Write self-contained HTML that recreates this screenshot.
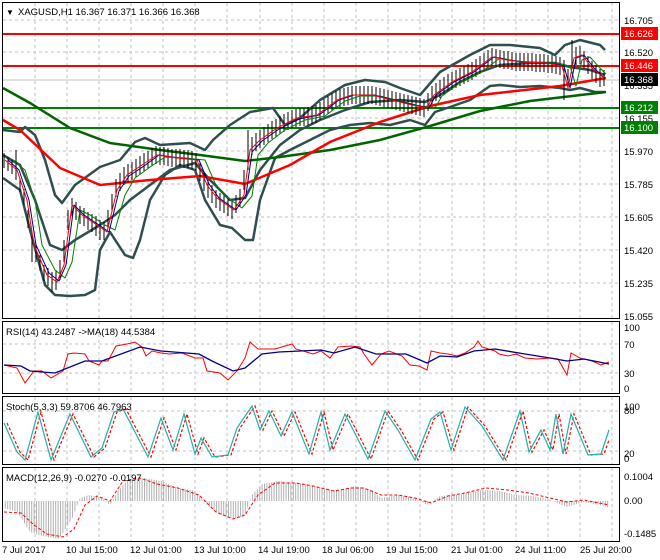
<!DOCTYPE html>
<html><head><meta charset="utf-8"><style>
html,body{margin:0;padding:0;background:#fff;}
svg{display:block;font-family:"Liberation Sans",sans-serif;}
</style></head><body>
<svg width="660" height="560" viewBox="0 0 660 560" xmlns="http://www.w3.org/2000/svg">
<defs>
<pattern id="hp" width="2.4" height="10" patternUnits="userSpaceOnUse"><rect x="0" y="0" width="1" height="10" fill="#b0b0b0"/></pattern>
</defs>
<rect width="660" height="560" fill="#fff"/>
<g stroke="#c0c0c0" stroke-dasharray="3,3" fill="none">
<path d="M35,3V318M67,3V318M99,3V318M131,3V318M163,3V318M195,3V318M227,3V318M260,3V318M292,3V318M324,3V318M356,3V318M388,3V318M420,3V318M452,3V318M484,3V318M516,3V318M548,3V318M580,3V318M612,3V318"/>
<path d="M35,322V393M67,322V393M99,322V393M131,322V393M163,322V393M195,322V393M227,322V393M260,322V393M292,322V393M324,322V393M356,322V393M388,322V393M420,322V393M452,322V393M484,322V393M516,322V393M548,322V393M580,322V393M612,322V393"/>
<path d="M35,397V464M67,397V464M99,397V464M131,397V464M163,397V464M195,397V464M227,397V464M260,397V464M292,397V464M324,397V464M356,397V464M388,397V464M420,397V464M452,397V464M484,397V464M516,397V464M548,397V464M580,397V464M612,397V464"/>
<path d="M35,468V541M67,468V541M99,468V541M131,468V541M163,468V541M195,468V541M227,468V541M260,468V541M292,468V541M324,468V541M356,468V541M388,468V541M420,468V541M452,468V541M484,468V541M516,468V541M548,468V541M580,468V541M612,468V541"/>
<path d="M3,20H619M3,52H619M3,118H619M3,151H619M3,184H619M3,217H619M3,250H619M3,283H619M3,344H619M3,373H619M3,411H619M3,451H619"/>
</g>
<line x1="3" x2="619" y1="80" y2="80" stroke="#c0c0c0"/>
<g stroke-width="2" fill="none">
<line x1="3" x2="620" y1="34" y2="34" stroke="#f00"/>
<line x1="3" x2="620" y1="66" y2="66" stroke="#f00"/>
<line x1="3" x2="620" y1="108" y2="108" stroke="#008000"/>
<line x1="3" x2="620" y1="128" y2="128" stroke="#008000"/>
</g>
<g fill="none" stroke="#2f4f4f" stroke-width="2.5" stroke-linejoin="round">
<path d="M3,130L20,132L25,127L35,135L45,160L55,195L62,203L75,185L100,167L120,160L135,142L145,138L160,145L190,143L205,150L213,140L230,125L250,112L273,108L285,125L300,118L320,100L345,85L365,80L385,82L400,88L420,95L440,72L470,55L490,45L510,45L540,48L555,55L565,45L580,40L600,45L605,50"/>
<path d="M3,178L20,190L30,230L45,285L55,295L70,296L85,295L95,290L100,250L110,232L125,255L133,258L140,240L150,200L165,175L180,165L195,170L205,200L220,225L232,228L245,240L253,240L260,200L275,158L290,150L310,140L330,130L350,125L370,123L390,125L410,120L425,125L435,112L450,107L470,100L490,86L500,85L520,87L540,86L560,88L570,90L580,88L595,92L605,92"/>
<path d="M3,155L20,165L35,200L50,245L62,250L75,240L100,225L115,215L130,200L150,185L170,170L195,163L210,180L230,200L245,198L260,170L280,145L300,130L320,120L345,110L370,102L400,100L425,102L440,95L460,82L480,72L500,65L530,63L555,63L570,67L590,70L605,75"/>
</g>
<path d="M3,88L30,103L70,128L110,143L160,150L200,155L245,161L280,157L330,150L380,140L430,126L480,111L530,101L606,92" fill="none" stroke="#006400" stroke-width="2.5"/>
<path d="M3,120L20,130L60,168L100,185L150,180L200,176L245,184L290,165L330,142L380,122L430,106L480,95L560,86L606,78" fill="none" stroke="#f00" stroke-width="2.5"/>
<path fill="none" stroke="#000" stroke-width="1" d="M4,153V168M8,157V171M12,160V174M16,150V180M20,178V192M24,189V205M28,210V228M32,236V262M36,246V262M40,255V271M44,265V281M48,268V286M52,272V292M56,270V290M60,260V280M64,240V262M68,210V230M72,198V216M76,202V220M80,206V224M84,208V226M88,212V230M92,214V232M96,216V236M100,220V240M104,222V240M108,210V228M112,194V212M116,179V197M120,173V191M124,167V185M128,164V182M132,162V180M136,159V177M140,156V174M144,153V171M148,151V169M152,148V166M156,146V164M160,147V165M164,147V165M168,148V166M172,149V167M176,149V167M180,149V167M184,150V168M188,150V168M192,151V169M196,153V171M200,163V181M204,173V191M208,180V198M212,185V203M216,190V208M220,193V211M224,195V213M228,198V216M232,201V219M236,195V213M240,189V207M244,170V190M248,130V170M252,137V155M256,133V151M260,130V148M264,127V145M268,124V142M272,121V139M276,119V137M280,116V134M284,114V132M288,112V130M292,110V128M296,109V127M300,108V126M304,108V126M308,107V125M312,106V124M316,105V123M320,102V120M324,99V117M328,96V114M332,93V111M336,91V109M340,89V107M344,88V106M348,87V105M352,86V104M356,86V104M360,86V104M364,86V104M368,86V104M372,86V104M376,87V105M380,88V106M384,89V107M388,90V108M392,91V109M396,92V110M400,93V111M404,94V112M408,95V113M412,96V114M416,97V115M420,98V116M424,99V117M428,93V111M432,86V104M436,83V101M440,80V98M444,77V95M448,74V92M452,72V90M456,70V88M460,68V86M464,66V84M468,64V82M472,62V80M476,59V77M480,56V74M484,53V71M488,50V68M492,48V66M496,49V67M500,50V68M504,51V69M508,51V69M512,52V70M516,53V71M520,53V71M524,53V71M528,53V71M532,53V71M536,54V72M540,54V72M544,54V72M548,55V73M552,55V73M556,56V74M560,57V75M564,60V100M568,69V87M572,40V67M576,47V65M580,46V64M584,51V69M588,56V74M592,61V79M596,65V83M600,69V87M604,70V86"/>
<g fill="none" stroke-width="1" stroke-linejoin="round">
<path stroke="#008000" d="M13,160L25,170L35,200L42,245L55,270L65,278L72,262L80,210L90,215L105,225L115,230L125,195L135,178L150,167L165,157L185,158L205,160L215,183L225,196L242,208L252,196L258,155L268,143L285,130L305,120L325,116L345,101L360,96L380,96L400,101L420,106L435,108L442,96L460,83L480,73L500,58L515,61L530,62L555,63L570,66L576,86L582,60L590,57L600,68L606,74"/>
<path stroke="#00008b" d="M8,160L19,170L29,200L36,245L49,273L59,281L66,265L74,205L84,215L99,225L109,232L119,191L129,176L144,166L159,155L179,158L199,160L209,184L219,198L236,210L246,195L252,152L262,141L279,129L299,119L319,115L339,100L354,95L374,95L394,100L414,105L429,108L436,95L454,82L474,72L494,57L509,60L524,62L549,63L564,66L570,88L576,58L584,55L594,68L604,78"/>
<path stroke="#f00" d="M5,160L17,170L27,200L34,245L47,275L57,282L64,265L72,205L82,215L97,225L107,232L117,190L127,175L142,165L157,155L177,158L197,160L207,185L217,198L234,210L244,195L250,150L260,140L277,128L297,118L317,115L337,100L352,95L372,95L392,100L412,105L427,108L434,95L452,82L472,72L492,57L507,60L522,62L547,63L562,66L568,88L574,58L582,55L592,68L604,78"/>
</g>
<path fill="none" stroke="#f00" stroke-width="1" d="M4,365L17,368L25,383L34,371L42,371L51,378L63,371L68,354L74,353L85,354L89,361L99,365L102,361L108,361L116,346L127,344L135,342L142,347L146,356L152,351L161,353L169,354L182,353L195,358L203,358L207,371L220,373L228,380L237,371L245,358L250,342L258,349L275,349L292,344L296,349L313,354L321,351L330,358L338,347L351,346L360,347L364,354L372,365L381,354L389,351L402,356L410,365L419,366L427,370L431,351L440,353L448,354L457,356L465,353L474,347L478,341L482,347L495,351L499,354L508,356L516,354L525,358L537,359L550,358L558,359L567,375L571,353L580,358L592,361L601,365L609,362"/>
<path fill="none" stroke="#00008b" stroke-width="1.3" d="M4,365L21,366L30,371L55,373L85,361L102,361L140,347L161,351L199,354L212,361L233,371L245,368L262,354L279,352L321,350L334,353L355,347L376,354L406,354L427,363L440,356L457,357L474,351L495,349L525,354L550,358L567,361L584,359L609,364"/>
<path fill="none" stroke="#f00" stroke-width="1.2" stroke-dasharray="3,2" d="M7,423L20,452L28,460L41,412L54,460L73,414L94,457L105,448L117,412L126,409L151,457L164,418L176,450L187,414L198,454L204,438L215,457L231,455L240,428L255,406L263,430L272,411L284,436L295,412L312,454L324,412L333,450L348,414L371,459L388,411L401,430L418,460L434,419L443,412L454,450L468,407L485,426L506,460L523,411L532,452L544,430L553,450L559,414L566,454L574,414L591,455L604,454L609,440"/>
<path fill="none" stroke="#20b2aa" stroke-width="1.2" d="M4,423L17,452L25,460L38,412L51,460L70,414L91,457L102,448L114,412L123,409L148,457L161,418L173,450L184,414L195,454L201,438L212,457L228,455L237,428L252,406L260,430L269,411L281,436L292,412L309,454L321,412L330,450L345,414L368,459L385,411L398,430L415,460L431,419L440,412L451,450L465,407L482,426L503,460L520,411L529,452L541,430L550,450L556,414L563,454L571,414L588,455L601,454L609,430"/>
<path fill="url(#hp)" d="M4,501L4,508L17,512L30,532L42,536L59,539L72,519L80,498L89,495L102,498L110,505L118,491L127,481L144,478L161,481L178,488L195,491L207,505L220,515L237,519L245,515L252,495L262,484L279,481L305,484L321,488L338,491L355,486L372,490L381,498L398,495L415,498L427,505L440,496L457,495L482,490L499,491L516,495L533,496L550,500L567,507L584,502L609,507L609,501Z"/>
<path fill="none" stroke="#f00" stroke-width="1" stroke-dasharray="3,2" d="M4,512L21,513L34,525L47,534L63,537L74,529L85,505L97,496L110,501L123,481L140,478L157,484L178,488L199,495L216,512L233,519L245,515L258,495L275,483L296,483L313,486L334,491L351,488L364,488L381,495L398,495L415,498L431,503L448,496L465,493L486,488L508,490L529,493L550,498L567,502L584,500L609,505"/>
<g fill="none" stroke="#000" stroke-width="1">
<rect x="2.5" y="2.5" width="617" height="316"/>
<rect x="2.5" y="321.5" width="617" height="72"/>
<rect x="2.5" y="396.5" width="617" height="68"/>
<rect x="2.5" y="467.5" width="617" height="74"/>
</g>
<g font-size="9.5" fill="#000">
<text x="6" y="15" font-size="8">▼</text>
<text x="18" y="15">XAGUSD,H1  16.367 16.371 16.366 16.368</text>
<text x="624" y="24">16.705</text>
<text x="624" y="56">16.520</text>
<text x="624" y="89">16.335</text>
<text x="624" y="122">16.155</text>
<text x="624" y="155">15.970</text>
<text x="624" y="188">15.785</text>
<text x="624" y="221">15.605</text>
<text x="624" y="254">15.420</text>
<text x="624" y="287">15.235</text>
<text x="624" y="320">15.055</text>
<rect x="621" y="27" width="37" height="13" fill="#f00"/><text x="624" y="37" fill="#fff">16.626</text>
<rect x="621" y="59" width="37" height="13" fill="#f00"/><text x="624" y="69" fill="#fff">16.446</text>
<rect x="621" y="73" width="37" height="13" fill="#000"/><text x="624" y="83" fill="#fff">16.368</text>
<rect x="621" y="101" width="37" height="13" fill="#008000"/><text x="624" y="111" fill="#fff">16.212</text>
<rect x="621" y="121" width="37" height="13" fill="#008000"/><text x="624" y="131" fill="#fff">16.100</text>
<text x="6" y="335">RSI(14) 43.2487  -&gt;MA(18) 44.5384</text>
<text x="624" y="331">100</text><text x="624" y="348">70</text><text x="624" y="377">30</text><text x="624" y="392">0</text>
<text x="6" y="410">Stoch(5,3,3) 59.8706 46.7963</text>
<text x="624" y="410">100</text><text x="624" y="414">80</text><text x="624" y="457">20</text><text x="624" y="462">0</text>
<text x="6" y="481">MACD(12,26,9) -0.0270 -0.0197</text>
<text x="624" y="480">0.1004</text><text x="624" y="504">0.00</text><text x="624" y="537">-0.1485</text>
<text x="2" y="553">7 Jul 2017</text>
<text x="66" y="553">10 Jul 15:00</text>
<text x="130" y="553">12 Jul 01:00</text>
<text x="194" y="553">13 Jul 10:00</text>
<text x="258" y="553">14 Jul 19:00</text>
<text x="322" y="553">18 Jul 06:00</text>
<text x="386" y="553">19 Jul 15:00</text>
<text x="451" y="553">21 Jul 01:00</text>
<text x="515" y="553">24 Jul 11:00</text>
<text x="580" y="553">25 Jul 20:00</text>
</g>
</svg>
</body></html>
